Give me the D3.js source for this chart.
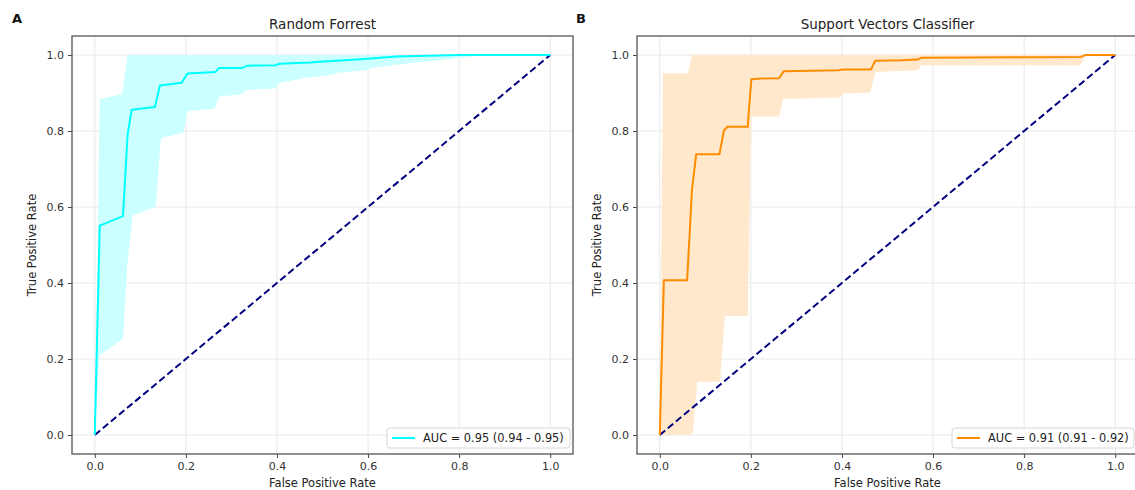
<html>

<head>
    <script src="https://d3js.org/d3.v7.min.js"></script>
</head>

<body style="margin:0;background:white">
    <svg></svg>
    <script>
        // ---- data ----
        const panelLetters = ["A", "B"]
        const panelTitles = ["Random Forrest", "Support Vectors Classifier"]
        const legendLabels = ["AUC = 0.95 (0.94 - 0.95)", "AUC = 0.91 (0.91 - 0.92)"]
        const tickValues = [0, 0.2, 0.4, 0.6, 0.8, 1.0]

        // mean ROC curves, [fpr, tpr]
        const rfMean = [[0, 0], [0.011, 0.551], [0.062, 0.576], [0.072, 0.79], [0.081, 0.856], [0.132, 0.863],
            [0.143, 0.92], [0.191, 0.927], [0.203, 0.951], [0.265, 0.955], [0.273, 0.966], [0.324, 0.966],
            [0.335, 0.972], [0.397, 0.973], [0.406, 0.977], [0.474, 0.98], [0.492, 0.982], [0.55, 0.986],
            [0.6, 0.99], [0.66, 0.996], [0.8, 1.0], [1, 1]]
        const rfUpper = [[0, 0], [0.011, 0.884], [0.06, 0.897], [0.072, 1.0], [1, 1]]
        const rfLower = [[0, 0], [0.011, 0.21], [0.062, 0.254], [0.071, 0.44], [0.083, 0.577], [0.134, 0.601],
            [0.145, 0.781], [0.195, 0.796], [0.203, 0.851], [0.263, 0.859], [0.274, 0.891], [0.324, 0.897],
            [0.333, 0.908], [0.397, 0.912], [0.406, 0.927], [0.466, 0.94], [0.524, 0.949], [0.532, 0.953],
            [0.598, 0.96], [0.605, 0.965], [0.664, 0.975], [0.8, 0.992], [0.85, 1.0], [1, 1]]

        const svcMean = [[0, 0], [0.009, 0.407], [0.06, 0.407], [0.066, 0.538], [0.0705, 0.643], [0.08, 0.739],
            [0.131, 0.739], [0.141, 0.802], [0.149, 0.811], [0.193, 0.811], [0.201, 0.936], [0.222, 0.938],
            [0.262, 0.939], [0.272, 0.957], [0.393, 0.96], [0.40, 0.962], [0.464, 0.962], [0.473, 0.985],
            [0.531, 0.986], [0.566, 0.988], [0.575, 0.993], [0.924, 0.995], [0.935, 1.0], [1, 1]]
        const svcUpper = [[0, 0], [0.007, 0.952], [0.062, 0.952], [0.071, 1.0], [1, 1]]
        const svcLower = [[0, 0], [0.069, 0], [0.073, 0.009], [0.082, 0.14], [0.132, 0.14], [0.143, 0.313],
            [0.193, 0.313], [0.201, 0.838], [0.262, 0.838], [0.271, 0.884], [0.395, 0.888], [0.402, 0.899],
            [0.462, 0.901], [0.473, 0.955], [0.566, 0.96], [0.575, 0.973], [0.924, 0.973], [0.935, 1.0], [1, 1]]

        const chance = [[0, 0], [1, 1]]

        const width = 1135
        const height = 490
        const font = "DejaVu Sans, sans-serif"

        const panels = [
            { left: 72, right: 573, mean: rfMean, upper: rfUpper, lower: rfLower, color: "#00ffff", band: "#ccffff", letterX: 12 },
            { left: 637, right: 1138, mean: svcMean, upper: svcUpper, lower: svcLower, color: "#ff8c00", band: "#ffe8cc", letterX: 576 },
        ]
        const plotTop = 36
        const plotBottom = 454

        const svg = d3.select("svg")
            .attr("width", width)
            .attr("height", height)
            .attr("viewBox", [0, 0, width, height])
            .style("font-family", font)

        const defs = svg.append("defs")

        panels.forEach((p, k) => {
            const x = d3.scaleLinear([-0.05, 1.05], [p.left, p.right])
            const y = d3.scaleLinear([-0.05, 1.05], [plotBottom, plotTop])
            const g = svg.append("g")

            defs.append("clipPath").attr("id", "clip" + k)
                .append("rect")
                .attr("x", p.left).attr("y", plotTop)
                .attr("width", p.right - p.left).attr("height", plotBottom - plotTop)

            // grid
            g.append("g")
                .selectAll("line").data(tickValues).join("line")
                .attr("x1", d => x(d)).attr("x2", d => x(d))
                .attr("y1", plotTop).attr("y2", plotBottom)
                .attr("stroke", "#e8e8e8").attr("stroke-width", 1)
            g.append("g")
                .selectAll("line").data(tickValues).join("line")
                .attr("x1", p.left).attr("x2", p.right)
                .attr("y1", d => y(d)).attr("y2", d => y(d))
                .attr("stroke", "#e8e8e8").attr("stroke-width", 1)

            const plot = g.append("g").attr("clip-path", `url(#clip${k})`)
            const line = d3.line().x(d => x(d[0])).y(d => y(d[1]))

            // std band: upper edge then lower edge reversed
            plot.append("path")
                .attr("d", line(p.upper.concat(p.lower.slice().reverse())) + "Z")
                .attr("fill", p.band)
                .attr("stroke", "none")

            plot.append("path")
                .attr("d", line(chance))
                .attr("fill", "none")
                .attr("stroke", "#000080")
                .attr("stroke-width", 2)
                .attr("stroke-dasharray", "7,3.5")

            plot.append("path")
                .attr("d", line(p.mean))
                .attr("fill", "none")
                .attr("stroke", p.color)
                .attr("stroke-width", 2)
                .attr("stroke-linejoin", "round")

            // axes
            const xAxis = d3.axisBottom(x).tickValues(tickValues).tickFormat(d3.format(".1f")).tickSize(4).tickPadding(4)
            const yAxis = d3.axisLeft(y).tickValues(tickValues).tickFormat(d3.format(".1f")).tickSize(4).tickPadding(4)
            g.append("g")
                .attr("transform", `translate(0,${plotBottom})`)
                .call(xAxis)
                .call(a => a.select(".domain").remove())
                .call(a => a.selectAll("text").attr("font-size", 11).attr("font-family", font).attr("fill", "#333"))
                .call(a => a.selectAll("line").attr("stroke", "#444"))
            g.append("g")
                .attr("transform", `translate(${p.left},0)`)
                .call(yAxis)
                .call(a => a.select(".domain").remove())
                .call(a => a.selectAll("text").attr("font-size", 11).attr("font-family", font).attr("fill", "#333"))
                .call(a => a.selectAll("line").attr("stroke", "#444"))

            // frame
            g.append("rect")
                .attr("x", p.left).attr("y", plotTop)
                .attr("width", p.right - p.left).attr("height", plotBottom - plotTop)
                .attr("fill", "none")
                .attr("stroke", "#555")
                .attr("stroke-width", 1.3)

            const cx = (p.left + p.right) / 2
            g.append("text")
                .attr("x", cx).attr("y", 29)
                .attr("text-anchor", "middle")
                .attr("font-size", 13.5).attr("fill", "#222")
                .text(panelTitles[k])
            g.append("text")
                .attr("x", p.letterX).attr("y", 23)
                .attr("font-size", 13).attr("font-weight", "bold").attr("fill", "#111")
                .text(panelLetters[k])
            g.append("text")
                .attr("x", cx).attr("y", 487)
                .attr("text-anchor", "middle")
                .attr("font-size", 11.5).attr("fill", "#222")
                .text("False Positive Rate")
            g.append("text")
                .attr("transform", `translate(${p.left - 36},${(plotTop + plotBottom) / 2}) rotate(-90)`)
                .attr("text-anchor", "middle")
                .attr("font-size", 11.5).attr("fill", "#222")
                .text("True Positive Rate")

            // legend
            const lw = k === 0 ? 183 : 182
            const lx = (k === 0 ? 570 : 1134) - lw
            const ly = 428
            const leg = g.append("g")
            leg.append("rect")
                .attr("x", lx).attr("y", ly).attr("width", lw).attr("height", 20)
                .attr("rx", 3)
                .attr("fill", "white").attr("fill-opacity", 0.85)
                .attr("stroke", "#d6d6d6")
            leg.append("line")
                .attr("x1", lx + 5).attr("x2", lx + 28)
                .attr("y1", ly + 10).attr("y2", ly + 10)
                .attr("stroke", p.color).attr("stroke-width", 2)
            leg.append("text")
                .attr("x", lx + 36).attr("y", ly + 14)
                .attr("font-size", 11.4).attr("fill", "#222")
                .text(legendLabels[k])
        })
    </script>
</body>

</html>
